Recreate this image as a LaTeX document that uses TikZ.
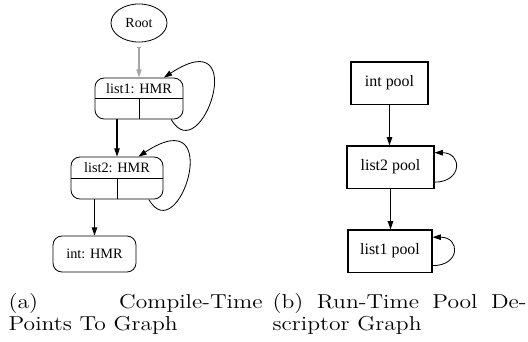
\documentclass[tikz,border=0pt]{standalone}
\usepackage{fontspec}
\newfontfamily\gvfont{Liberation Serif}
\usetikzlibrary{arrows,arrows.meta,positioning,shapes.geometric}
\tikzset{
	hmrbox/.style={draw, line width=0.45pt, rounded corners=5pt, inner sep=0},
	poolbox/.style={draw, inner sep=0, minimum height=23pt, font=\gvfont\fontsize{8.7}{10}\selectfont},
	hmrtext/.style={inner sep=0, outer sep=0, font=\gvfont\fontsize{7.8}{9}\selectfont},
	captext/.style={anchor=base west, inner sep=0, xscale=1.17, transform shape, font=\fontsize{11}{12.4}\selectfont}
}

\begin{document}
\begin{tikzpicture}[->,>={Triangle[length=4.5pt,width=3pt]},x=0.5464pt,y=-0.5464pt,
			semithick]
			\useasboundingbox (0,0) rectangle (528,341);
			% (a) compile-time points-to graph
			\node[draw, line width=0.45pt, ellipse, inner sep=0, minimum width=30.6pt, minimum height=20.8pt, font=\gvfont\fontsize{7.6}{9}\selectfont] (root) at (139, 23) {Root};
			\node[hmrbox, minimum width=48.1pt, minimum height=22.4pt] (l1) at (139, 98.5) {};
			\node[hmrtext] (l1t) at (139, 88.5) {list1: HMR};
			\node[hmrbox, minimum width=50.3pt, minimum height=23pt] (l2) at (117, 178) {};
			\node[hmrtext] (l2t) at (117, 167.5) {list2: HMR};
			\node[hmrbox, minimum width=45.4pt, minimum height=19.7pt, font=\gvfont\fontsize{7.8}{9}\selectfont] (int) at (94.5, 254) {int: HMR};
			\draw[-, line width=0.45pt] (l1.west) -- (l1.east);
			\draw[-, line width=0.45pt] (l1.center) -- (l1.south);
			\draw[-, line width=0.45pt] (l2.west) -- (l2.east);
			\draw[-, line width=0.45pt] (l2.center) -- (l2.south);
			\path (root) edge[gray!70, {Bar[width=2pt]}-{Triangle[length=4.5pt,width=2.8pt]}, shorten <=2.7pt] (l1);
			\path (l2.north |- l1.south) edge (l2.north);
			\path (int.north |- l2.south) edge (int.north);
			\draw[line width=0.45pt] (l1.-33) .. controls +(30,52) and +(88,-58) .. (l1.40);
			\draw[line width=0.45pt] (l2.-34) .. controls +(30,52) and +(88,-58) .. (l2.45);
			% (b) run-time pool descriptor graph
			\node[poolbox, minimum width=42.1pt] (ip) at (389.5, 83) {int pool};
			\node[poolbox, minimum width=47.5pt] (p2) at (390.5, 167) {list2 pool};
			\node[poolbox, minimum width=45.9pt] (p1) at (390, 251) {list1 pool};
			\path (ip) edge (ip |- p2.north);
			\path (p2) edge (p2 |- p1.north);
			\draw[line width=0.45pt] (p2.-19) .. controls +(28,0) and +(28,0) .. (p2.18);
			\draw[line width=0.45pt] (p1.-19) .. controls +(28,0) and +(28,0) .. (p1.18);
			% captions
			\node[captext] (capa) at (8, 308) {\parbox[t]{118.6pt}{(a) Compile-Time\linebreak Points To Graph}};
			\node[captext] (capb) at (272, 308) {\parbox[t]{118.6pt}{(b) Run-Time Pool De-\linebreak scriptor Graph}};
		\end{tikzpicture}
\end{document}
